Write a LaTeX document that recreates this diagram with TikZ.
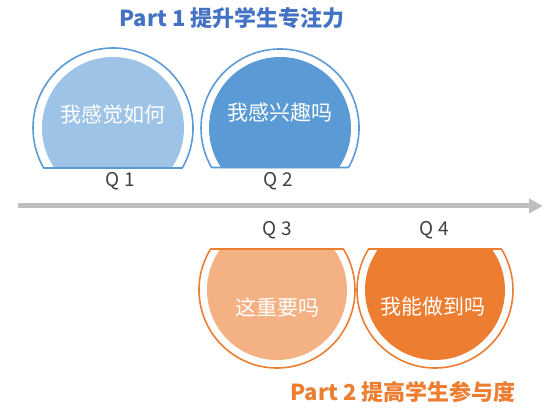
\documentclass[tikz,border=0pt]{standalone}
\usepackage{fontspec}
\setmainfont{Noto Sans CJK SC}
\usepackage{tikz}
\usetikzlibrary{arrows.meta,positioning,calc}
\definecolor{partblue}{RGB}{68,114,196}
\definecolor{ringblue}{RGB}{91,155,213}
\definecolor{lightblue}{RGB}{157,195,230}
\definecolor{partorange}{RGB}{237,125,49}
\definecolor{lightorange}{RGB}{244,177,131}
\definecolor{labelgray}{RGB}{64,64,64}
\definecolor{axisgray}{RGB}{191,191,191}

\begin{document}
\begin{tikzpicture}[x=1pt, y=1pt]
    \useasboundingbox (0,0) rectangle (554,414);
    % Centres of the four discs
    \coordinate (c1) at (113,286);
    \coordinate (c2) at (280,286);
    \coordinate (c3) at (277,124);
    \coordinate (c4) at (435,124);

    % Upper discs (cut flat at the bottom)
    \fill [lightblue] ($(c1)+(-34.3:71)$) arc[start angle=-34.3, end angle=214.3, radius=71] -- cycle;
    \draw [ringblue, line width=1.6pt, line join=round] ($(c1)+(-30:80)$) arc[start angle=-30, end angle=210, radius=80] -- cycle;
    \fill [ringblue] ($(c2)+(-34.3:71)$) arc[start angle=-34.3, end angle=214.3, radius=71] -- cycle;
    \draw [ringblue, line width=1.6pt, line join=round] ($(c2)+(-30:79)$) arc[start angle=-30, end angle=210, radius=79] -- cycle;

    % Lower discs (cut flat at the top)
    \fill [lightorange] ($(c3)+(144.2:70)$) arc[start angle=144.2, end angle=395.8, radius=70] -- cycle;
    \draw [partorange, line width=1.6pt, line join=round] ($(c3)+(148.3:78)$) arc[start angle=148.3, end angle=391.7, radius=78] -- cycle;
    \fill [partorange] ($(c4)+(144.2:70)$) arc[start angle=144.2, end angle=395.8, radius=70] -- cycle;
    \draw [partorange, line width=1.6pt, line join=round] ($(c4)+(148.3:78)$) arc[start angle=148.3, end angle=391.7, radius=78] -- cycle;

    % Nodes
    \node [text=partblue, font=\bfseries\fontsize{22}{22}\selectfont] (part1) at (232,396) {Part 1 提升学生专注力};
    \node [text=partorange, font=\bfseries\fontsize{22}{22}\selectfont] (part2) at (403,22) {Part 2 提高学生参与度};

    \node [text=white, font=\fontsize{21}{21}\selectfont] (t1) at (113,299) {我感觉如何};
    \node [text=white, font=\fontsize{21}{21}\selectfont] (t2) at (280,301) {我感兴趣吗};
    \node [text=white, font=\fontsize{21}{21}\selectfont] (t3) at (277,107) {这重要吗};
    \node [text=white, font=\fontsize{21}{21}\selectfont] (t4) at (433,107) {我能做到吗};

    \node [text=labelgray, font=\fontsize{19}{19}\selectfont] (q1) at (120,233) {Q\hspace{5pt}1};
    \node [text=labelgray, font=\fontsize{19}{19}\selectfont] (q2) at (278,233) {Q\hspace{5pt}2};
    \node [text=labelgray, font=\fontsize{19}{19}\selectfont] (q3) at (277,184) {Q\hspace{5pt}3};
    \node [text=labelgray, font=\fontsize{19}{19}\selectfont] (q4) at (434,184) {Q\hspace{5pt}4};

    % Time axis
    \coordinate (axisstart) at (18,208);
    \coordinate (axisend) at (543,208);
    \draw [axisgray, line width=5pt, -{Triangle[width=14pt, length=14pt]}] (axisstart) -- (axisend);
\end{tikzpicture}
\end{document}
